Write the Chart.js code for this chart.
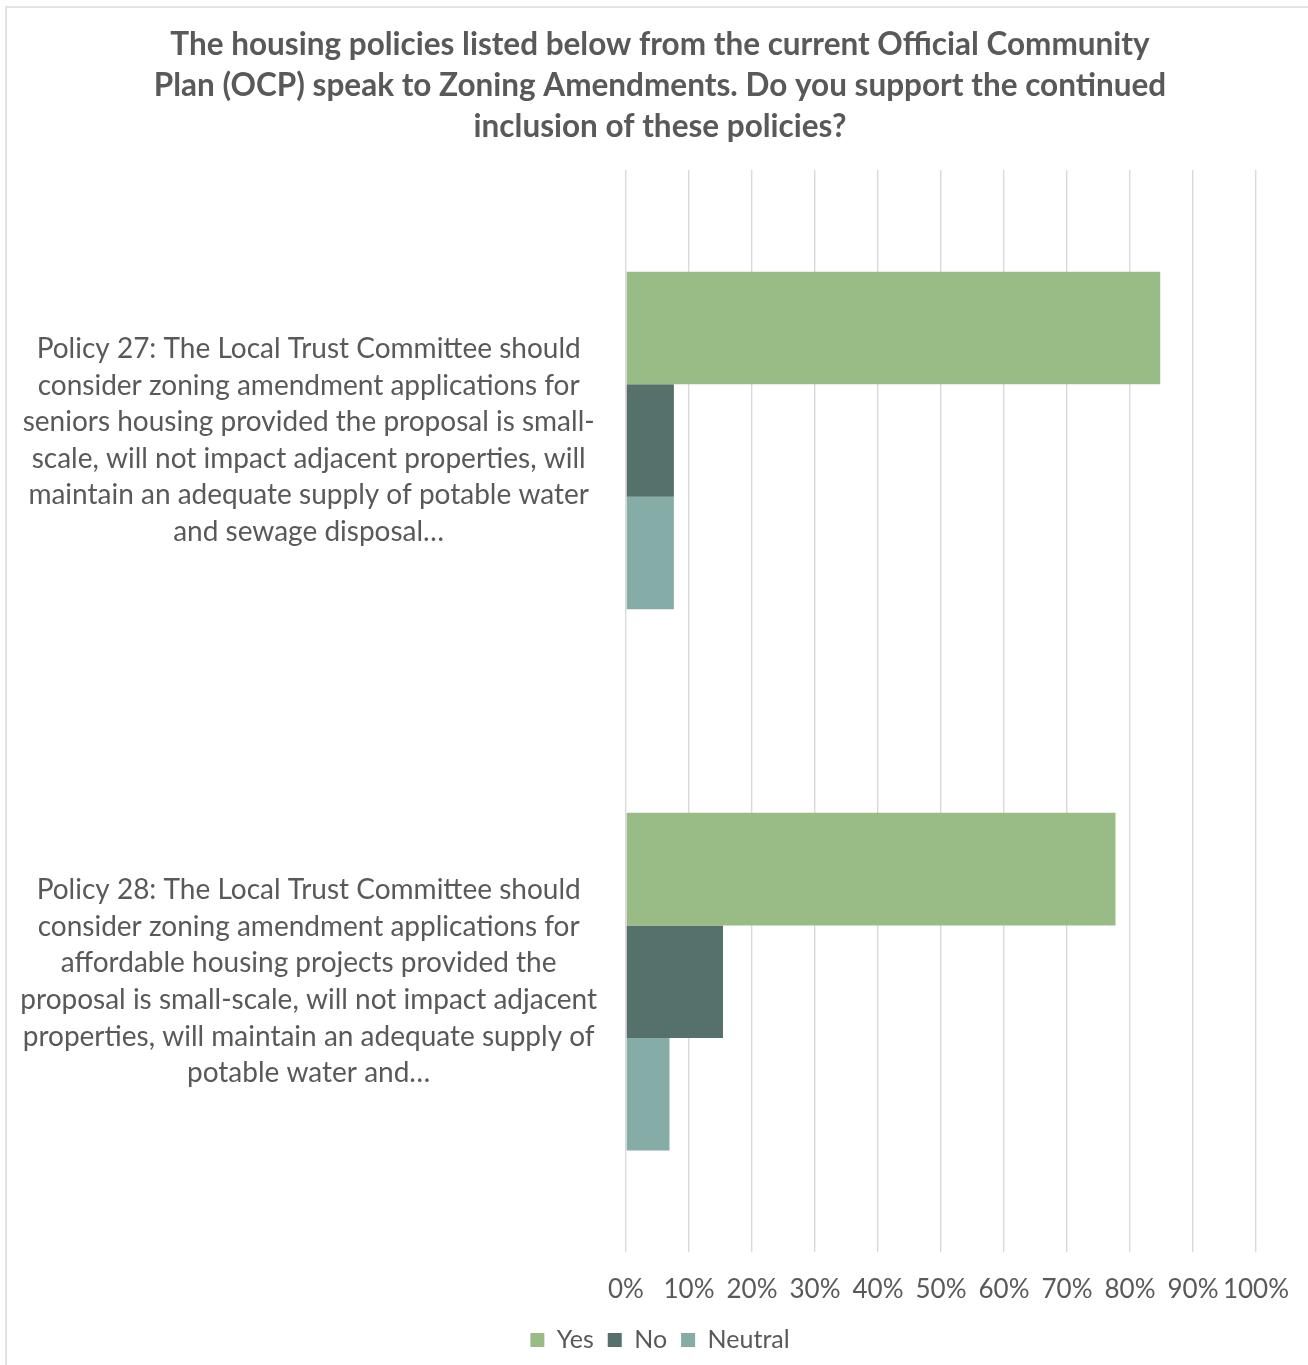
<!DOCTYPE html>
<html>
<head>
<meta charset="utf-8">
<title>Zoning Amendments</title>
<script src="https://cdn.jsdelivr.net/npm/chart.js@4.4.1/dist/chart.umd.min.js"></script>
<style>
    html, body { margin: 0; background: #ffffff; overflow: hidden; }
    #frame {
        position: absolute; left: 5px; top: 6px;
        width: 1320px; height: 1380px;
        border: 2px solid #e3e3e3; box-sizing: border-box;
    }
    #wrap {
        position: absolute; left: 0; top: 0;
        width: 1308px; height: 1365px; overflow: hidden;
    }
    #inner { position: relative; width: 1308px; height: 1391px; }
</style>
</head>
<body>
<div id="frame"></div>
<div id="wrap"><div id="inner"><canvas id="chart"></canvas></div></div>
<script>
// policy text shown on the category axis, one array of lines per policy
var policies = [
    ["Policy 27: The Local Trust Committee should",
     "consider zoning amendment applications for",
     "seniors housing provided the proposal is small-",
     "scale, will not impact adjacent properties, will",
     "maintain an adequate supply of potable water",
     "and sewage disposal…"],
    ["Policy 28: The Local Trust Committee should",
     "consider zoning amendment applications for",
     "affordable housing projects provided the",
     "proposal is small-scale, will not impact adjacent",
     "properties, will maintain an adequate supply of",
     "potable water and…"]
];

// share of responses, percent
var yesValues = [84.8, 77.7];
var noValues = [7.6, 15.4];
var neutralValues = [7.6, 6.9];

var percentTicks = [0, 10, 20, 30, 40, 50, 60, 70, 80, 90, 100];

var titleLines = [
    "The housing policies listed below from the current Official Community",
    "Plan (OCP) speak to Zoning Amendments. Do you support the continued",
    "inclusion of these policies?"
];

var textColor = "#595959";
var fontFamily = "Lato, 'Open Sans', sans-serif";

Chart.defaults.font.family = fontFamily;
Chart.defaults.color = textColor;

var chart = new Chart(document.getElementById('chart').getContext('2d'), {
    type: 'bar',
    data: {
        labels: policies,
        datasets: [{
            label: 'Yes',
            data: yesValues,
            backgroundColor: '#99bb85'
        }, {
            label: 'No',
            data: noValues,
            backgroundColor: '#56706b'
        }, {
            label: 'Neutral',
            data: neutralValues,
            backgroundColor: '#85aca7'
        }]
    },
    options: {
        indexAxis: 'y',
        responsive: true,
        maintainAspectRatio: false,
        animation: false,
        datasets: {
            bar: {
                barPercentage: 1,
                categoryPercentage: 0.624
            }
        },
        layout: {
            padding: { left: 19, right: 7, top: 0, bottom: 0 }
        },
        plugins: {
            title: {
                display: true,
                text: titleLines,
                color: textColor,
                font: { size: 31.5, weight: 'bold', lineHeight: '41px' },
                padding: { top: 24, bottom: 23 }
            },
            legend: {
                position: 'bottom',
                labels: {
                    boxWidth: 14,
                    boxHeight: 14,
                    padding: 14,
                    color: textColor,
                    font: { size: 25 }
                }
            },
            tooltip: { enabled: false }
        },
        scales: {
            x: {
                min: 0,
                max: 100,
                afterBuildTicks: (axis) => {
                    axis.ticks = percentTicks.map((v) => ({ value: v }));
                },
                afterFit: (axis) => {
                    axis.height -= 14;
                    // leave room right of the plot for the "100%" label
                    axis.paddingRight = 52;
                },
                grid: {
                    color: '#d9d9d9',
                    lineWidth: 1.4,
                    drawTicks: false
                },
                border: { display: false },
                ticks: {
                    autoSkip: false,
                    maxRotation: 0,
                    padding: 22,
                    font: { size: 26 },
                    callback: (value) => value + '%'
                }
            },
            y: {
                afterFit: (axis) => {
                    axis.width = 607;
                },
                grid: { display: false, drawTicks: false },
                border: { display: false },
                ticks: {
                    crossAlign: 'center',
                    padding: 29,
                    font: { size: 28, lineHeight: '36.6px' }
                }
            }
        }
    }
});
</script>
</body>
</html>
